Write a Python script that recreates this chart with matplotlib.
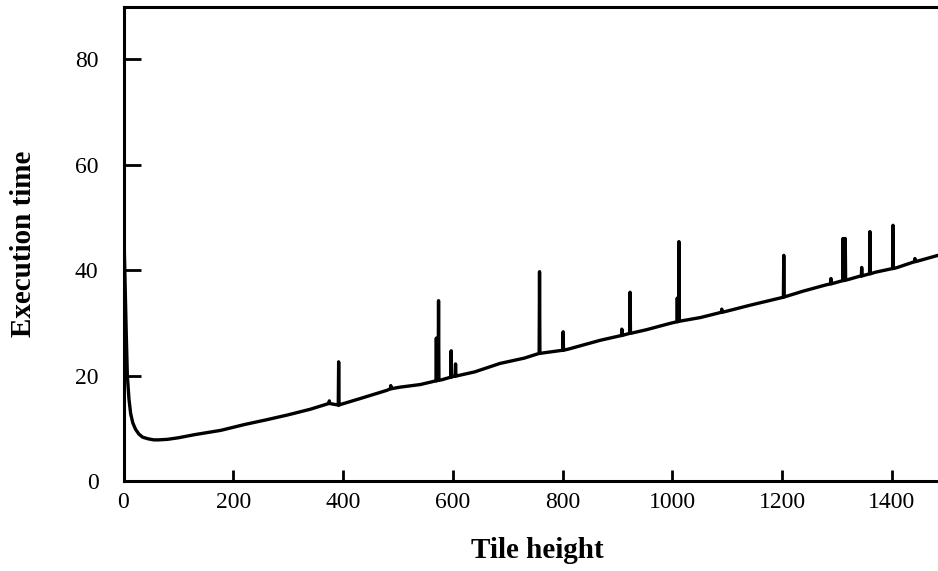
import matplotlib
matplotlib.use("Agg")
import matplotlib.pyplot as plt
import numpy as np

# smooth part of the trace (tile height, execution time)
base_x = [1, 3, 5, 7, 10, 13, 17, 22, 28, 35, 45, 55, 64, 80, 100, 130, 177,
          220, 260, 298, 340, 371, 395, 430, 480, 504, 541, 580, 600, 640, 686,
          730, 765, 810, 869, 915, 953, 996, 1051, 1095, 1140, 1200, 1238,
          1280, 1320, 1340, 1370, 1410, 1450, 1484]
base_y = [46, 37, 28, 20, 15.5, 12.8, 11.0, 9.8, 8.9, 8.3, 8.0, 7.8, 7.8, 7.9,
          8.2, 8.8, 9.6, 10.7, 11.6, 12.5, 13.6, 14.6, 14.5, 15.6, 17.2, 17.8,
          18.3, 19.2, 19.8, 20.7, 22.3, 23.3, 24.3, 25.0, 26.7, 27.8, 28.7,
          29.9, 31.0, 32.1, 33.3, 34.8, 36.0, 37.2, 38.2, 38.8, 39.6, 40.5,
          41.8, 42.8]

# spikes: position, level at the foot, level at the top
spike_x = [375, 392, 487, 570, 574, 597, 605, 758, 801, 908, 923, 1009, 1012,
           1090, 1203, 1289, 1311, 1315, 1345, 1360, 1402, 1442]
spike_base = [14.7, 14.4, 17.5, 19.0, 19.1, 19.7, 19.9, 24.2, 24.8, 27.6, 28.0,
              30.2, 30.3, 32.0, 34.9, 37.4, 38.0, 38.1, 38.9, 39.3, 40.3, 41.6]
spike_peak = [15.2, 22.6, 18.1, 27.1, 34.2, 24.7, 22.2, 39.7, 28.3, 28.8, 35.8,
              34.7, 45.4, 32.6, 42.8, 38.4, 46.0, 46.0, 40.5, 47.3, 48.5, 42.2]

xs = list(base_x)
ys = list(base_y)
for sx, sb, sp in zip(spike_x, spike_base, spike_peak):
    xs += [sx - 0.7, sx, sx + 0.7]
    ys += [sb, sp, sb]
order = np.argsort(xs, kind="stable")
xs = np.array(xs)[order]
ys = np.array(ys)[order]

plt.rcParams["font.family"] = ["Liberation Serif", "DejaVu Serif"]

fig = plt.figure(figsize=(9.38, 5.71), dpi=100)
ax = fig.add_axes([123.5 / 938, 90 / 571, 1 - 123.5 / 938, 474.5 / 571])

ax.plot(xs, ys, color="black", lw=2.4)

ax.set_xlim(0, 1484)
ax.set_ylim(0, 90)
ax.set_xticks([0, 200, 400, 600, 800, 1000, 1200, 1400])
ax.set_yticks([0, 20, 40, 60, 80])

for side in ["left", "bottom", "top"]:
    ax.spines[side].set_linewidth(2.2)
ax.spines["right"].set_visible(False)

ax.tick_params(axis="x", direction="in", length=8, width=2, pad=8,
               labelsize=17)
ax.tick_params(axis="y", direction="in", length=12, width=2, pad=18,
               labelsize=17)

ax.set_xlabel("Tile height", fontsize=21, fontweight="bold")
ax.set_ylabel("Execution time", fontsize=21, fontweight="bold")
ax.xaxis.set_label_coords(0.508, -0.117)
ax.yaxis.set_label_coords(-0.106, 0.5)

fig.savefig("out.png", dpi=100)
